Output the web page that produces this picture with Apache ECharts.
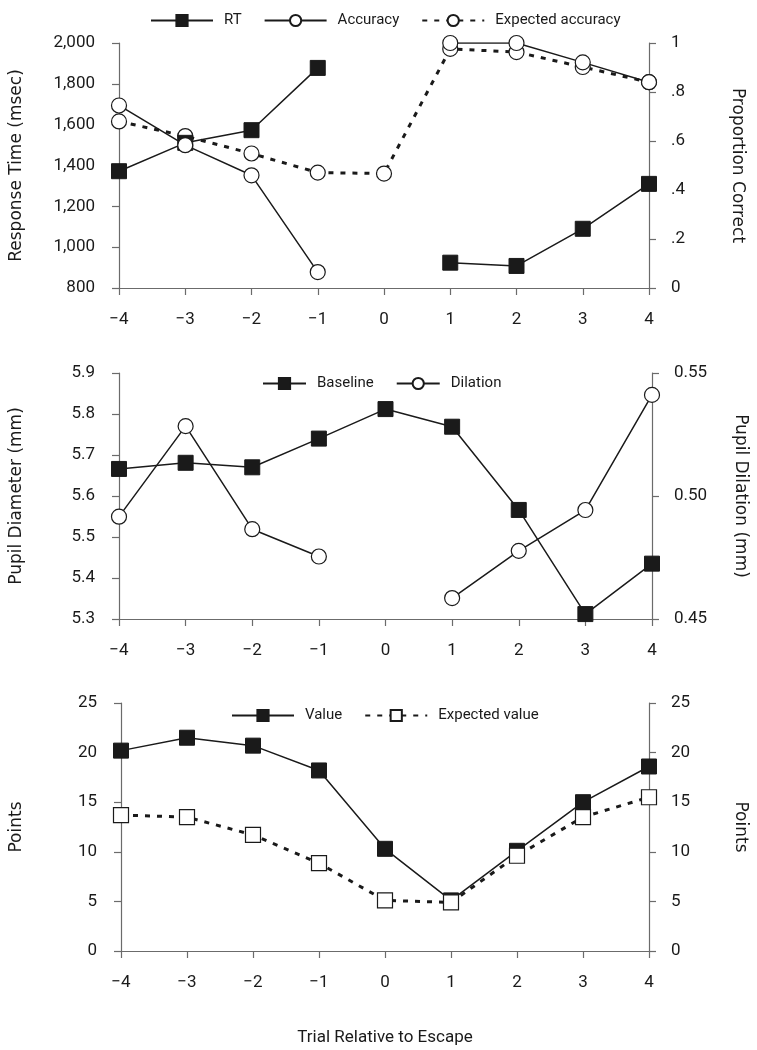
<!DOCTYPE html>
<html>
<head>
<meta charset="utf-8">
<script src="https://cdn.jsdelivr.net/npm/echarts@6/dist/echarts.min.js"></script>
<style>
  html, body { margin: 0; padding: 0; background: #fff; }
  #chart { width: 757px; height: 1050px; }
</style>
</head>
<body>
<div id="chart"></div>
<script>
// trial positions relative to escape
var trials = ['\u22124', '\u22123', '\u22122', '\u22121', '0', '1', '2', '3', '4'];

// panel 1: response time and accuracy
var rt = [1372, 1511, 1573, 1878, null, 924, 908, 1090, 1310];
var accuracy = [0.745, 0.583, 0.46, 0.065, null, 1.0, 1.0, 0.921, 0.84];
var expectedAccuracy = [0.68, 0.62, 0.549, 0.471, 0.467, 0.976, 0.963, 0.902, 0.84];

// panel 2: pupil
var baseline = [5.666, 5.681, 5.670, 5.740, 5.812, 5.769, 5.566, 5.312, 5.435];
var dilation = [0.4916, 0.5284, 0.4865, 0.4754, null, 0.4585, 0.4777, 0.4943, 0.5411];

// panel 3: points
var value = [20.2, 21.5, 20.7, 18.2, 10.3, 5.1, 10.1, 15.0, 18.6];
var expectedValue = [13.7, 13.5, 11.7, 8.85, 5.1, 4.9, 9.6, 13.5, 15.5];

var chart = echarts.init(document.getElementById('chart'));

var axisGray = '#6b6b6b';
var ink = '#1a1a1a';
var tickFont = 'Roboto, "Noto Sans", sans-serif';
var titleFont = '"DejaVu Sans", Verdana, sans-serif';

function xAxisFor(idx, extra) {
  var ax = {
    type: 'category',
    gridIndex: idx,
    data: trials,
    boundaryGap: false,
    axisLine: { lineStyle: { color: axisGray, width: 1.2 } },
    axisTick: { show: true, length: 7, lineStyle: { color: axisGray, width: 1.2 } },
    axisLabel: { color: ink, fontFamily: tickFont, fontSize: 17, margin: 23 },
    splitLine: { show: false }
  };
  return Object.assign(ax, extra || {});
}

function yAxisFor(idx, side, min, max, interval, fmt, name, gap) {
  return {
    type: 'value',
    gridIndex: idx,
    position: side,
    min: min,
    max: max,
    interval: interval,
    name: name,
    nameLocation: 'middle',
    nameGap: gap,
    nameRotate: side === 'right' ? -90 : 90,
    nameTextStyle: { color: ink, fontFamily: titleFont, fontSize: 17 },
    axisLine: { show: true, lineStyle: { color: axisGray, width: 1.2 } },
    axisTick: { show: true, length: 7, lineStyle: { color: axisGray, width: 1.2 } },
    axisLabel: { color: ink, fontFamily: tickFont, fontSize: 17, margin: side === 'right' ? 22 : 24, formatter: fmt },
    splitLine: { show: false }
  };
}

var solidLine = { color: ink, width: 1.5 };
var dashLine = { color: ink, width: 3, type: [5, 7] };
var filled = { color: ink, borderColor: ink, borderWidth: 1 };
var hollow = { color: '#fff', borderColor: ink, borderWidth: 1.2 };

function legendFor(names, left, top, w) {
  return {
    data: names,
    left: left,
    top: top,
    itemWidth: w,
    itemHeight: 14,
    itemGap: 22,
    textStyle: { color: ink, fontFamily: tickFont, fontSize: 15, padding: [0, 0, 0, 6] }
  };
}

var option = {
  backgroundColor: '#fff',
  animation: false,
  legend: [
    legendFor(['RT', 'Accuracy', 'Expected accuracy'], 145, 8, 62),
    legendFor(['Baseline', 'Dilation'], 257, 371, 43),
    legendFor(['Value', 'Expected value'], 226, 703, 62)
  ],
  grid: [
    { left: 119, right: 108, top: 43, height: 245 },
    { left: 117, right: 104, top: 373, height: 246 },
    { left: 119, right: 103, top: 703, height: 248 }
  ],
  xAxis: [
    xAxisFor(0),
    xAxisFor(1),
    xAxisFor(2, {
      name: 'Trial Relative to Escape',
      nameLocation: 'middle',
      nameGap: 78,
      nameTextStyle: { color: ink, fontFamily: tickFont, fontSize: 17 }
    })
  ],
  yAxis: [
    yAxisFor(0, 'left', 800, 2000, 200, function (v) {
      return v.toLocaleString('en-US');
    }, 'Response Time (msec)', 94),
    yAxisFor(0, 'right', 0, 1, 0.2, function (v) {
      if (v === 0) return '0';
      if (v >= 0.999) return '1';
      return '.' + Math.round(v * 10);
    }, 'Proportion Correct', 80),
    yAxisFor(1, 'left', 5.3, 5.9, 0.1, function (v) {
      return v.toFixed(1);
    }, 'Pupil Diameter (mm)', 94),
    yAxisFor(1, 'right', 0.45, 0.55, 0.05, function (v) {
      return v.toFixed(2);
    }, 'Pupil Dilation (mm)', 80),
    yAxisFor(2, 'left', 0, 25, 5, null, 'Points', 96),
    yAxisFor(2, 'right', 0, 25, 5, null, 'Points', 83)
  ],
  series: [
    {
      name: 'RT', type: 'line', xAxisIndex: 0, yAxisIndex: 0,
      data: rt, symbol: 'rect', symbolSize: 15,
      lineStyle: solidLine, itemStyle: filled, z: 3
    },
    {
      name: 'Accuracy', type: 'line', xAxisIndex: 0, yAxisIndex: 1,
      data: accuracy, symbol: 'circle', symbolSize: 15,
      lineStyle: solidLine, itemStyle: hollow, z: 4
    },
    {
      name: 'Expected accuracy', type: 'line', xAxisIndex: 0, yAxisIndex: 1,
      data: expectedAccuracy, symbol: 'circle', symbolSize: 15,
      lineStyle: dashLine, itemStyle: hollow, z: 2
    },
    {
      name: 'Baseline', type: 'line', xAxisIndex: 1, yAxisIndex: 2,
      data: baseline, symbol: 'rect', symbolSize: 15,
      lineStyle: solidLine, itemStyle: filled, z: 3
    },
    {
      name: 'Dilation', type: 'line', xAxisIndex: 1, yAxisIndex: 3,
      data: dilation, symbol: 'circle', symbolSize: 15,
      lineStyle: solidLine, itemStyle: hollow, z: 4
    },
    {
      name: 'Value', type: 'line', xAxisIndex: 2, yAxisIndex: 4,
      data: value, symbol: 'rect', symbolSize: 15,
      lineStyle: solidLine, itemStyle: filled, z: 3
    },
    {
      name: 'Expected value', type: 'line', xAxisIndex: 2, yAxisIndex: 5,
      data: expectedValue, symbol: 'rect', symbolSize: 15,
      lineStyle: dashLine, itemStyle: hollow, z: 4
    }
  ]
};

chart.setOption(option);
</script>
</body>
</html>
